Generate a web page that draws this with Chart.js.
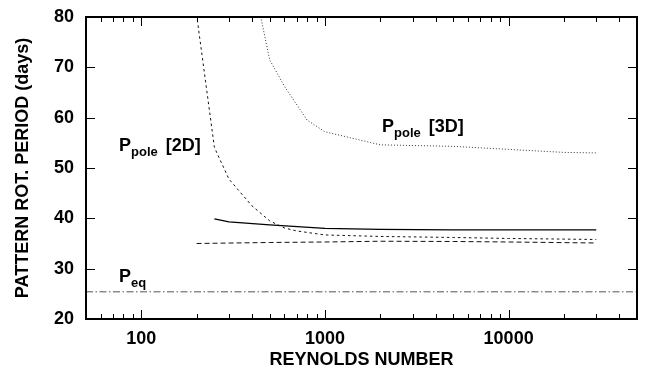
<!DOCTYPE html>
<html>
<head>
<meta charset="utf-8">
<script src="https://cdn.jsdelivr.net/npm/chart.js@4.4.1/dist/chart.umd.min.js"></script>
<style>
  body { margin: 0; background: #fff; }
  canvas { display: block; }
</style>
</head>
<body>
<canvas id="chart" width="658" height="374"></canvas>
<script>
// Reynolds number (x) and pattern rotation period in days (y)
const re3d = [430, 500, 600, 800, 1000, 2000, 5000, 10000, 20000, 30000];
const pole3d = [83, 71.5, 66.3, 59.5, 57.2, 54.6, 54.3, 53.7, 53.1, 53.0];

const re2d = [200, 250, 300, 400, 500, 600, 700, 1000, 2000, 5000, 10000, 30000];
const pole2d = [80.5, 54.1, 47.8, 42.5, 39.5, 38.1, 37.5, 36.7, 36.4, 36.2, 36.0, 35.8];

const reSolid = [250, 300, 500, 1000, 2000, 5000, 30000];
const pSolid = [39.9, 39.3, 38.7, 38.0, 37.8, 37.7, 37.7];

const reDash = [200, 500, 1000, 2000, 5000, 10000, 30000];
const pDash = [35.0, 35.2, 35.3, 35.45, 35.4, 35.3, 35.1];

const reEq = [50, 50000];
const pEq = [25.4, 25.4];

const xTicks = [100, 1000, 10000];
const yTicks = [20, 30, 40, 50, 60, 70, 80];

const FONT = '"Liberation Sans", Arial, sans-serif';

function pts(xs, ys) {
    return xs.map((x, i) => ({ x: x, y: ys[i] }));
}

function line(xs, ys, color, dash, width) {
    return {
        data: pts(xs, ys),
        borderColor: color,
        borderWidth: width || 1,
        borderDash: dash,
        pointRadius: 0,
        fill: false,
        tension: 0
    };
}

// frame, inward ticks and the curve labels
const framePlugin = {
    id: "frame",
    afterDraw(chart) {
        const ctx = chart.ctx;
        const a = chart.chartArea;
        const xs = chart.scales.x;
        const ys = chart.scales.y;

        ctx.save();
        ctx.strokeStyle = "#000";
        ctx.lineWidth = 2;
        ctx.strokeRect(a.left, a.top, a.right - a.left, a.bottom - a.top);

        ctx.lineWidth = 1;
        ctx.beginPath();
        // x ticks, major and minor
        for (let d = 10; d <= 10000; d *= 10) {
            for (let m = 1; m <= 9; m++) {
                const v = d * m;
                if (v <= 50 || v >= 50000) continue;
                const px = Math.round(xs.getPixelForValue(v)) + 0.5;
                const len = m === 1 ? 9 : 5;
                ctx.moveTo(px, a.bottom);
                ctx.lineTo(px, a.bottom - len);
                ctx.moveTo(px, a.top);
                ctx.lineTo(px, a.top + len);
            }
        }
        // y ticks
        yTicks.forEach(v => {
            if (v === 20 || v === 80) return;
            const py = Math.round(ys.getPixelForValue(v)) + 0.5;
            ctx.moveTo(a.left, py);
            ctx.lineTo(a.left + 9, py);
            ctx.moveTo(a.right, py);
            ctx.lineTo(a.right - 9, py);
        });
        ctx.stroke();

        // labels
        ctx.fillStyle = "#000";
        ctx.textBaseline = "alphabetic";
        function label(x, y, main, sub, rest) {
            ctx.font = "bold 18px " + FONT;
            ctx.fillText(main, x, y);
            let w = ctx.measureText(main).width;
            ctx.font = "bold 13px " + FONT;
            ctx.fillText(sub, x + w, y + 5);
            w += ctx.measureText(sub).width;
            if (rest) {
                ctx.font = "bold 18px " + FONT;
                ctx.fillText(rest, x + w + 8, y);
            }
        }
        label(119, 151, "P", "pole", "[2D]");
        label(382, 132, "P", "pole", "[3D]");
        label(119, 282, "P", "eq", "");
        ctx.restore();
    }
};

new Chart(document.getElementById("chart"), {
    type: "line",
    data: {
        datasets: [
            line(re3d, pole3d, "#333", [1, 2], 1),
            line(re2d, pole2d, "#111", [2.5, 3], 1),
            line(reSolid, pSolid, "#000", [], 1.2),
            line(reDash, pDash, "#111", [5, 3], 1),
            line(reEq, pEq, "#555", [7, 2.5, 1.5, 2.5], 1)
        ]
    },
    options: {
        responsive: false,
        animation: false,
        layout: { padding: { top: 17, right: 21, left: 0, bottom: 0 } },
        plugins: {
            legend: { display: false },
            tooltip: { enabled: false }
        },
        scales: {
            x: {
                type: "logarithmic",
                min: 50,
                max: 50000,
                afterBuildTicks: scale => {
                    scale.ticks = xTicks.map(v => ({ value: v }));
                },
                afterFit: scale => {
                    scale.height = 55;
                    scale.paddingLeft = 0;
                    scale.paddingRight = 0;
                },
                grid: { display: false, drawTicks: false },
                border: { display: false },
                ticks: {
                    color: "#000",
                    padding: 9,
                    maxRotation: 0,
                    font: { family: FONT, size: 18, weight: "bold" },
                    callback: v => String(v)
                },
                title: {
                    display: true,
                    text: "REYNOLDS NUMBER",
                    color: "#000",
                    padding: { top: 0, bottom: 3 },
                    font: { family: FONT, size: 18, weight: "bold" }
                }
            },
            y: {
                type: "linear",
                min: 20,
                max: 80,
                afterBuildTicks: scale => {
                    scale.ticks = yTicks.map(v => ({ value: v }));
                },
                afterFit: scale => {
                    scale.width = 86;
                    scale.paddingTop = 0;
                    scale.paddingBottom = 0;
                },
                grid: { display: false, drawTicks: false },
                border: { display: false },
                ticks: {
                    color: "#000",
                    padding: 12,
                    font: { family: FONT, size: 18, weight: "bold" },
                    callback: v => String(v)
                },
                title: {
                    display: true,
                    text: "PATTERN ROT. PERIOD (days)",
                    color: "#000",
                    padding: { top: 12, bottom: 0 },
                    font: { family: FONT, size: 18, weight: "bold" }
                }
            }
        }
    },
    plugins: [framePlugin]
});
</script>
</body>
</html>
